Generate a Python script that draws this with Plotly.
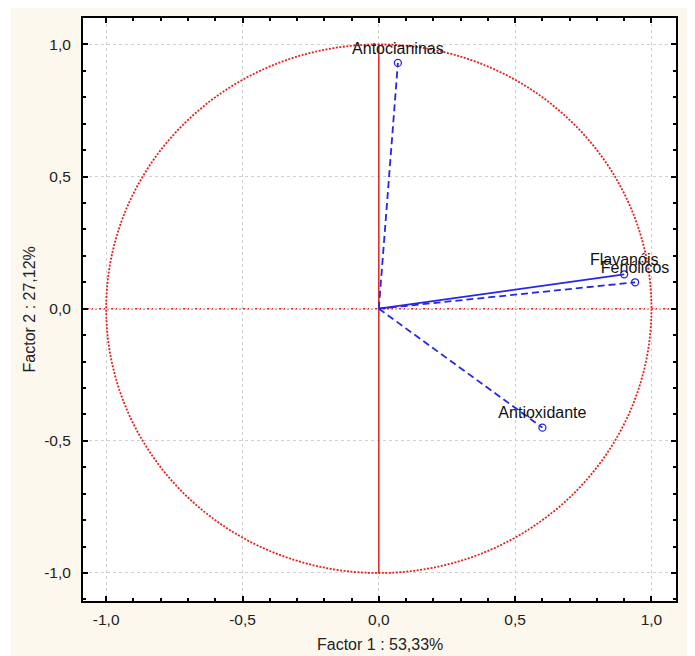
import plotly.graph_objects as go

variables = ["Antocianinas", "Flavanóis", "Fenólicos", "Antioxidante"]
factor1 = [0.07, 0.90, 0.94, 0.60]
factor2 = [0.93, 0.13, 0.10, -0.45]
dashes = ["7px,4px", "solid", "7px,4px", "7px,4px"]

tick_vals = [-1.0, -0.5, 0.0, 0.5, 1.0]
tick_text = ["-1,0", "-0,5", "0,0", "0,5", "1,0"]

x_title = "Factor 1 : 53,33%"
y_title = "Factor 2 : 27,12%"

BLUE = "#2626e6"
RED = "#e62020"
CREAM = "#fdf8ed"
FONT = "Liberation Sans, Arial, sans-serif"

fig = go.Figure()

for name, fx, fy, d in zip(variables, factor1, factor2, dashes):
    fig.add_trace(go.Scatter(
        x=[0, fx], y=[0, fy], mode="lines",
        line=dict(color=BLUE, width=1.8, dash=d),
        showlegend=False, hoverinfo="skip"))

fig.add_trace(go.Scatter(
    x=factor1, y=factor2, mode="markers+text",
    text=variables, textposition="top center",
    textfont=dict(family=FONT, size=16, color="#111111"),
    marker=dict(symbol="circle-open", size=7, color=BLUE, line=dict(width=1.3, color=BLUE)),
    cliponaxis=False, showlegend=False))

shapes = [
    dict(type="circle", xref="x", yref="y", x0=-1, x1=1, y0=-1, y1=1,
         line=dict(color=RED, width=1.8, dash="2px,1.5px"), layer="between"),
    dict(type="line", xref="x", yref="y", x0=0, x1=0, y0=-1, y1=1,
         line=dict(color=RED, width=1.5), layer="between"),
    dict(type="line", xref="paper", yref="y", x0=0, x1=1, y0=0, y1=0,
         line=dict(color=RED, width=1.6, dash="2px,2px"), layer="between"),
    dict(type="rect", xref="paper", yref="paper", x0=-0.3, x1=-0.1214, y0=-0.3, y1=1.3,
         fillcolor="white", line=dict(width=0), layer="below"),
]

annotations = [
    dict(text=x_title, xref="paper", yref="paper", x=0.5, y=-0.0752,
         xanchor="center", yanchor="middle", showarrow=False,
         font=dict(family=FONT, size=16, color="#222222")),
    dict(text=y_title, xref="paper", yref="paper", x=-0.0894, y=0.5,
         xanchor="center", yanchor="middle", showarrow=False, textangle=-90,
         font=dict(family=FONT, size=16, color="#222222")),
]

axis_common = dict(
    showline=True, linecolor="black", linewidth=2, mirror="ticks",
    ticks="inside", ticklen=5, tickwidth=1.5, tickcolor="black",
    showgrid=True, gridcolor="#cfcfcf", griddash="dot", gridwidth=1,
    zeroline=False, tickvals=tick_vals, ticktext=tick_text,
    tickfont=dict(family=FONT, size=15.5, color="#222222"),
    minor=dict(dtick=0.1, tick0=0, ticks="inside", ticklen=3, tickcolor="black", showgrid=False),
)

fig.update_layout(
    width=695, height=656,
    margin=dict(l=75, r=27, t=8, b=63),
    paper_bgcolor=CREAM, plot_bgcolor="white",
    shapes=shapes, annotations=annotations,
    xaxis=dict(range=[-1.085, 1.09], ticklabelstandoff=3, **axis_common),
    yaxis=dict(range=[-1.106, 1.1], ticklabelstandoff=7, **axis_common),
)

fig.write_html("out.html")
